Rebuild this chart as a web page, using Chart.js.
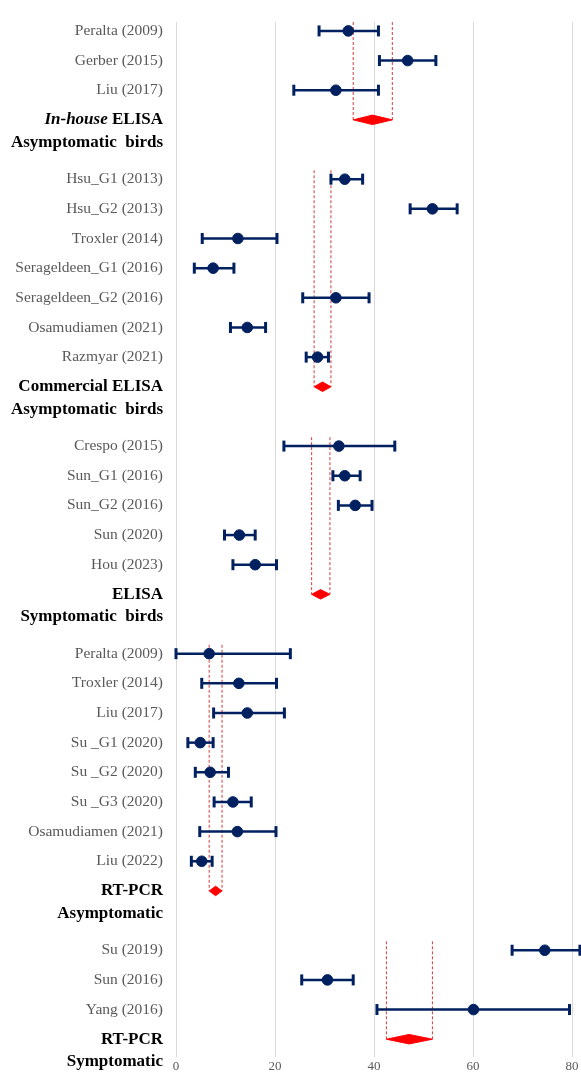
<!DOCTYPE html>
<html>
<head>
<meta charset="utf-8">
<script src="https://cdn.jsdelivr.net/npm/chart.js@4/dist/chart.umd.min.js"></script>
<style>
  body { margin: 0; background: #fff; }
  #wrap { width: 581px; height: 1075px; }
</style>
</head>
<body>
<div id="wrap"><canvas id="forest"></canvas></div>
<script>
// ==========================
// Data (rows counted from the top)
// ==========================
const studyNames = [
    'Peralta (2009)', 'Gerber (2015)', 'Liu (2017)',
    'Hsu_G1 (2013)', 'Hsu_G2 (2013)', 'Troxler (2014)', 'Serageldeen_G1 (2016)',
    'Serageldeen_G2 (2016)', 'Osamudiamen (2021)', 'Razmyar (2021)',
    'Crespo (2015)', 'Sun_G1 (2016)', 'Sun_G2 (2016)', 'Sun (2020)', 'Hou (2023)',
    'Peralta (2009)', 'Troxler (2014)', 'Liu (2017)', 'Su _G1 (2020)', 'Su _G2 (2020)',
    'Su _G3 (2020)', 'Osamudiamen (2021)', 'Liu (2022)',
    'Su (2019)', 'Sun (2016)', 'Yang (2016)'
];
const studyRows = [0, 1, 2, 5, 6, 7, 8, 9, 10, 11, 14, 15, 16, 17, 18, 21, 22, 23, 24, 25, 26, 27, 28, 31, 32, 33];
const estimates = [34.8, 46.8, 32.3, 34.1, 51.8, 12.5, 7.5, 32.3, 14.4, 28.6, 32.9, 34.1, 36.2, 12.8, 16.0,
    6.7, 12.7, 14.4, 4.9, 6.9, 11.5, 12.4, 5.2, 74.5, 30.6, 60.1];
const lowerCI = [28.9, 41.1, 23.8, 31.3, 47.3, 5.3, 3.7, 25.6, 11.0, 26.3, 21.8, 31.7, 32.8, 9.8, 11.5,
    0, 5.2, 7.6, 2.4, 3.9, 7.7, 4.8, 3.1, 67.9, 25.4, 40.6];
const upperCI = [40.9, 52.5, 40.9, 37.7, 56.8, 20.4, 11.7, 39.0, 18.1, 30.8, 44.2, 37.2, 39.6, 16.0, 20.3,
    23.1, 20.3, 21.9, 7.5, 10.6, 15.2, 20.2, 7.3, 81.6, 35.8, 79.5];

const groupTitles = ['In-house ELISA', 'Commercial ELISA', 'ELISA', 'RT-PCR', 'RT-PCR'];
const groupSubtitles = ['Asymptomatic  birds', 'Asymptomatic  birds', 'Symptomatic  birds', 'Asymptomatic', 'Symptomatic'];
const groupFirstRows = [0, 5, 14, 21, 31];
const pooledRows = [3, 12, 19, 29, 34];
const pooledEst = [39.7, 29.6, 29.2, 8.0, 47.1];
const pooledLow = [35.8, 27.9, 27.4, 6.7, 42.5];
const pooledHigh = [43.7, 31.3, 31.1, 9.3, 51.8];

const xTicks = [0, 20, 40, 60, 80];

// ==========================
// Styles
// ==========================
const SERIF = "'Liberation Serif', 'Times New Roman', serif";
const NAVY = '#002060';
const RED = '#ff0000';
const DASH_RED = '#d23c3c';

// y tick list: studies + group headings (two lines)
const yLabels = [];
studyNames.forEach((n, i) => yLabels.push({ value: studyRows[i], label: n, head: false }));
groupTitles.forEach((t, i) => {
    yLabels.push({ value: pooledRows[i], label: t, head: true });
    yLabels.push({ value: pooledRows[i] + 0.76, label: groupSubtitles[i], head: true });
});
const labelAt = v => yLabels.find(l => Math.abs(l.value - v) < 1e-6);
const isHead = c => {
    const t = c && c.tick;
    if (!t) return false;
    const l = labelAt(t.value);
    return !!(l && l.head);
};

const datasets = [];

// estimate dots
datasets.push({
    data: estimates.map((e, i) => ({ x: e, y: studyRows[i] })),
    pointRadius: 5.3,
    pointBackgroundColor: NAVY,
    pointBorderColor: NAVY,
    showLine: false,
    order: 0
});

// confidence intervals with caps
studyRows.forEach((r, i) => {
    datasets.push({
        data: [{ x: lowerCI[i], y: r }, { x: upperCI[i], y: r }],
        showLine: true,
        borderColor: NAVY,
        borderWidth: 2.5,
        pointStyle: 'line',
        rotation: 90,
        pointRadius: 5.5,
        pointBorderWidth: 3,
        pointBorderColor: NAVY,
        clip: false,
        order: 1
    });
});

// pooled: dashed guides + diamond
pooledRows.forEach((r, i) => {
    [pooledLow[i], pooledHigh[i]].forEach(v => {
        datasets.push({
            data: [{ x: v, y: groupFirstRows[i] - 0.3 }, { x: v, y: r }],
            showLine: true,
            borderColor: DASH_RED,
            borderWidth: 1,
            borderDash: [3, 2],
            pointRadius: 0,
            order: 2
        });
    });
    datasets.push({
        data: [
            { x: pooledLow[i], y: r },
            { x: pooledEst[i], y: r - 0.16 },
            { x: pooledHigh[i], y: r },
            { x: pooledEst[i], y: r + 0.16 },
            { x: pooledLow[i], y: r }
        ],
        showLine: true,
        fill: 'shape',
        backgroundColor: RED,
        borderColor: RED,
        borderWidth: 1,
        pointRadius: 0,
        order: 1
    });
});

// italic "In-house" prefix in the first heading
const italicPrefix = {
    id: 'italicPrefix',
    afterDraw(chart) {
        const yScale = chart.scales.y;
        const ctx = chart.ctx;
        const x = yScale.right - yScale.options.ticks.padding;
        const y = yScale.getPixelForValue(pooledRows[0]);
        ctx.save();
        ctx.font = 'bold 17px ' + SERIF;
        const w = ctx.measureText(' ELISA').width;
        ctx.font = 'italic bold 17px ' + SERIF;
        ctx.textAlign = 'right';
        ctx.textBaseline = 'middle';
        ctx.fillStyle = '#000';
        ctx.fillText('In-house', x - w, y);
        ctx.restore();
    }
};

new Chart(document.getElementById('forest'), {
    type: 'scatter',
    data: { datasets },
    plugins: [italicPrefix],
    options: {
        responsive: true,
        maintainAspectRatio: false,
        animation: false,
        layout: { padding: { top: 22, right: 9, left: 0, bottom: 0 } },
        plugins: {
            legend: { display: false },
            tooltip: { enabled: false }
        },
        scales: {
            x: {
                type: 'linear',
                min: 0,
                max: 80,
                afterBuildTicks: s => { s.ticks = xTicks.map(v => ({ value: v })); },
                afterFit: s => { s.height = 18; },
                grid: { color: '#d9d9d9', lineWidth: 1, drawTicks: false },
                border: { display: false },
                ticks: {
                    padding: 2,
                    color: '#595959',
                    font: { family: SERIF, size: 13 }
                }
            },
            y: {
                type: 'linear',
                reverse: true,
                min: -0.3,
                max: 34.6,
                afterBuildTicks: s => { s.ticks = yLabels.map(l => ({ value: l.value })); },
                afterFit: s => { s.width = 176; s.paddingTop = 0; s.paddingBottom = 0; },
                grid: { display: false, drawTicks: false },
                border: { display: false },
                ticks: {
                    autoSkip: false,
                    padding: 13,
                    callback: v => {
                        const l = labelAt(v);
                        if (!l) return '';
                        return l.label.startsWith('In-house ') ? l.label.slice(9) : l.label;
                    },
                    color: c => isHead(c) ? '#000' : '#595959',
                    font: c => isHead(c)
                        ? { family: SERIF, size: 17, weight: 'bold' }
                        : { family: SERIF, size: 15.5 }
                }
            }
        }
    }
});
</script>
</body>
</html>
